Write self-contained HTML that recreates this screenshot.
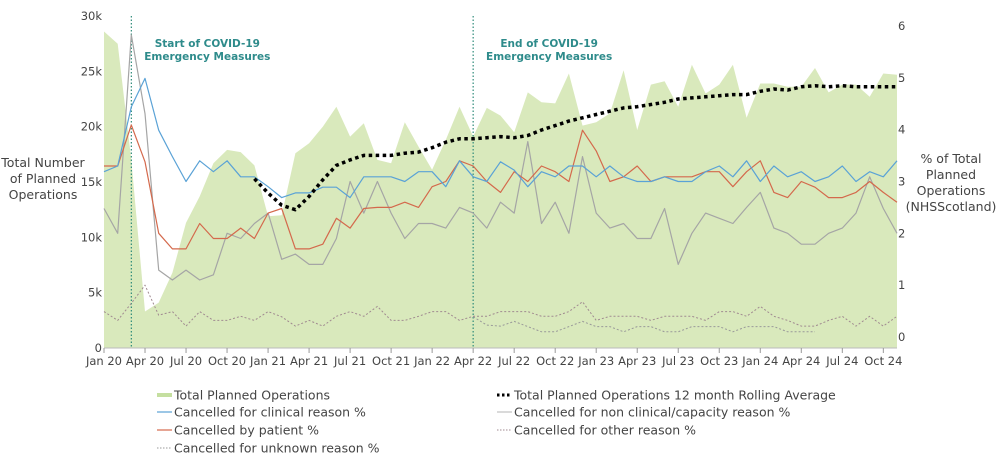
<!DOCTYPE html>
<html><head><meta charset="utf-8"><style>
body{margin:0;background:#fff;}
svg{display:block;font-family:"DejaVu Sans","Liberation Sans",sans-serif;}
</style></head><body>
<svg id="chart" width="1000" height="466" xmlns="http://www.w3.org/2000/svg"></svg>
<script>
const months = ["Jan 20","Feb 20","Mar 20","Apr 20","May 20","Jun 20","Jul 20","Aug 20","Sep 20","Oct 20","Nov 20","Dec 20","Jan 21","Feb 21","Mar 21","Apr 21","May 21","Jun 21","Jul 21","Aug 21","Sep 21","Oct 21","Nov 21","Dec 21","Jan 22","Feb 22","Mar 22","Apr 22","May 22","Jun 22","Jul 22","Aug 22","Sep 22","Oct 22","Nov 22","Dec 22","Jan 23","Feb 23","Mar 23","Apr 23","May 23","Jun 23","Jul 23","Aug 23","Sep 23","Oct 23","Nov 23","Dec 23","Jan 24","Feb 24","Mar 24","Apr 24","May 24","Jun 24","Jul 24","Aug 24","Sep 24","Oct 24","Nov 24"];
const totalOps = [28600,27500,17000,3300,4100,6800,11300,13700,16700,17900,17700,16500,11900,12000,17600,18500,20000,21800,19100,20300,17000,16700,20400,18200,16100,18800,21800,19100,21700,21000,19500,23100,22200,22100,24800,20100,20400,21200,25100,19700,23800,24100,21800,25600,23000,23800,25600,20800,23900,23900,23600,23600,25300,23100,23800,23800,22700,24800,24700];
const rollingAvg = [null,null,null,null,null,null,null,null,null,null,null,15300,14000,12900,12500,13700,15200,16500,17000,17400,17400,17400,17600,17700,18100,18600,18900,18900,19000,19100,19000,19200,19700,20100,20500,20800,21100,21400,21700,21800,22000,22200,22500,22600,22700,22800,22900,22900,23200,23400,23300,23600,23700,23600,23700,23600,23600,23600,23600];
const clinicalPct = [3.19,3.3,4.44,4.99,3.99,3.48,3.0,3.4,3.19,3.4,3.09,3.09,2.9,2.69,2.78,2.78,2.89,2.89,2.69,3.09,3.09,3.09,3.0,3.19,3.19,2.9,3.4,3.09,3.0,3.38,3.22,2.9,3.19,3.09,3.3,3.3,3.09,3.3,3.09,3.0,3.0,3.09,3.0,3.0,3.19,3.3,3.09,3.4,3.0,3.3,3.09,3.19,3.0,3.09,3.3,3.0,3.19,3.09,3.4];
const patientPct = [3.3,3.3,4.09,3.38,2.0,1.7,1.7,2.19,1.9,1.9,2.1,1.9,2.39,2.48,1.7,1.7,1.79,2.29,2.1,2.48,2.5,2.5,2.6,2.5,2.9,3.0,3.4,3.3,3.0,2.79,3.19,3.0,3.3,3.19,3.0,3.99,3.59,3.0,3.09,3.3,3.0,3.09,3.09,3.09,3.19,3.19,2.9,3.19,3.4,2.79,2.69,3.0,2.89,2.69,2.69,2.79,3.0,2.79,2.6];
const nonClinicalPct = [2.48,2.0,5.83,4.31,1.29,1.1,1.29,1.1,1.2,2.0,1.9,2.19,2.39,1.5,1.6,1.4,1.4,1.9,3.0,2.39,3.0,2.39,1.9,2.19,2.19,2.1,2.5,2.39,2.1,2.6,2.39,3.77,2.19,2.6,2.0,3.48,2.39,2.1,2.19,1.9,1.9,2.48,1.4,2.0,2.39,2.29,2.19,2.5,2.79,2.1,2.0,1.79,1.79,2.0,2.1,2.39,3.09,2.48,2.0];
const otherPct = [0.49,0.32,0.65,1.0,0.42,0.49,0.21,0.49,0.32,0.32,0.4,0.32,0.49,0.39,0.21,0.32,0.21,0.4,0.49,0.4,0.59,0.32,0.32,0.4,0.49,0.49,0.32,0.4,0.4,0.49,0.49,0.49,0.4,0.4,0.49,0.68,0.32,0.4,0.4,0.4,0.32,0.4,0.4,0.4,0.32,0.49,0.49,0.4,0.59,0.4,0.32,0.21,0.21,0.32,0.4,0.21,0.4,0.21,0.4];
const unknownPct = [null,null,null,null,null,null,null,null,null,null,null,null,null,null,null,null,null,null,null,null,null,null,null,null,null,null,null,0.39,0.23,0.21,0.3,0.2,0.1,0.1,0.2,0.3,0.2,0.2,0.1,0.2,0.2,0.1,0.1,0.2,0.2,0.2,0.1,0.2,0.2,0.2,0.1,0.1,0.1,null,null,null,null,null,null];
const leftTicks = [0,5000,10000,15000,20000,25000,30000];
const leftTickLabels = ["0","5k","10k","15k","20k","25k","30k"];
const rightTicks = [0,1,2,3,4,5,6];
const xTickIdx = [0,3,6,9,12,15,18,21,24,27,30,33,36,39,42,45,48,51,54,57];
const eventIdx = [2,27];
const eventLabels = [["Start of COVID-19","Emergency Measures"],["End of COVID-19","Emergency Measures"]];

const X0=104, X1=897, YB=348, YT=16, RB=337, RT=26;
const x = i => X0 + (X1-X0)*i/(months.length-1);
const yL = v => YB - (YB-YT)*v/30000;
const yR = v => RB - (RB-RT)*v/6;
const NS="http://www.w3.org/2000/svg";
const svg=document.getElementById('chart');
function mk(tag,attrs,parent){const e=document.createElementNS(NS,tag);for(const k in attrs)e.setAttribute(k,attrs[k]);(parent||svg).appendChild(e);return e;}
function linePath(arr,fy){let d="",pen=false;arr.forEach((v,i)=>{if(v==null){pen=false;return;}d+=(pen?"L":"M")+x(i).toFixed(1)+","+fy(v).toFixed(1);pen=true;});return d;}

let ad="M"+x(0)+","+YB;
totalOps.forEach((v,i)=>{ad+="L"+x(i).toFixed(1)+","+yL(v).toFixed(1);});
ad+="L"+x(totalOps.length-1)+","+YB+"Z";
const area=mk('path',{d:ad,fill:'#d9e9bc',stroke:'none'});



const ax=mk('line',{x1:X0,y1:YB,x2:X1,y2:YB,stroke:'#bbb','stroke-width':1});



xTickIdx.forEach(i=>{
  const t=mk('line',{x1:x(i),y1:YB,x2:x(i),y2:YB+5,stroke:'#999'});
  
  
  const l=mk('text',{x:x(i),y:365,'text-anchor':'middle','font-size':11.5,fill:'#444'});
  l.textContent=months[i];
  
  
});
leftTicks.forEach((v,k)=>{
  const l=mk('text',{x:102,y:yL(v)+4,'text-anchor':'end','font-size':11.5,fill:'#444'});
  l.textContent=leftTickLabels[k];
  
  
});
rightTicks.forEach(v=>{
  const l=mk('text',{x:898,y:yR(v)+4,'text-anchor':'start','font-size':11.5,fill:'#444'});
  l.textContent=String(v);
  
  
});

eventIdx.forEach((i,k)=>{
  const l=mk('line',{x1:x(i),y1:16,x2:x(i),y2:YB,stroke:'#2e8b7a','stroke-width':1.2,'stroke-dasharray':'1.5,2'});
  
  
  eventLabels[k].forEach((s,j)=>{
    const t=mk('text',{x:x(i)+76,y:47+j*13,'text-anchor':'middle','font-size':10.5,'font-weight':'bold',fill:'#2e8b8b'});
    t.textContent=s;
    
    
  });
});

function series(arr,fy,color,w,dash,name){
  const p=mk('path',{d:linePath(arr,fy),fill:'none',stroke:color,'stroke-width':w,'stroke-linejoin':'round'});
  if(dash)p.setAttribute('stroke-dasharray',dash);
  
  
}
series(unknownPct,yR,'#999',1,'2,2','unknown-reason-line');
series(otherPct,yR,'#a08a90',1,'2,2','other-reason-line');
series(nonClinicalPct,yR,'#a5a5a5',1.2,null,'non-clinical-line');
series(patientPct,yR,'#d4694c',1.2,null,'patient-line');
series(clinicalPct,yR,'#5aa2d6',1.2,null,'clinical-line');
series(rollingAvg,yL,'#000',3.5,'3.5,3.5','rolling-average-line');

[["Total Number",167],["of Planned",183],["Operations",199]].forEach(([s,yy])=>{
  const t=mk('text',{x:43,y:yy,'text-anchor':'middle','font-size':12.5,fill:'#444'});
  t.textContent=s;
  
  
});
[["% of Total",163],["Planned",179],["Operations",195],["(NHSScotland)",211]].forEach(([s,yy])=>{
  const t=mk('text',{x:951,y:yy,'text-anchor':'middle','font-size':12.5,fill:'#444'});
  t.textContent=s;
  
  
});

const legend=[
 [157,395,'Total Planned Operations','#c5dfa0',4,null],
 [497,395,'Total Planned Operations 12 month Rolling Average','#000',3,'2.5,2.5'],
 [157,412,'Cancelled for clinical reason %','#5aa2d6',1.2,null],
 [497,412,'Cancelled for non clinical/capacity reason %','#c0c0c0',1.2,null],
 [157,430,'Cancelled by patient %','#d4694c',1.2,null],
 [497,430,'Cancelled for other reason %','#a08a90',1,'1.5,1.5'],
 [157,448,'Cancelled for unknown reason %','#999',1,'1.5,1.5']
];
legend.forEach(([lx,ly,label,c,w,d])=>{
  const g=mk('g',{});
  
  
  const l=mk('line',{x1:lx,y1:ly,x2:lx+15,y2:ly,stroke:c,'stroke-width':w},g);
  if(d)l.setAttribute('stroke-dasharray',d);
  const t=mk('text',{x:lx+17,y:ly+4.5,'font-size':12.5,fill:'#444'},g);
  t.textContent=label;
});
</script>
</body></html>
